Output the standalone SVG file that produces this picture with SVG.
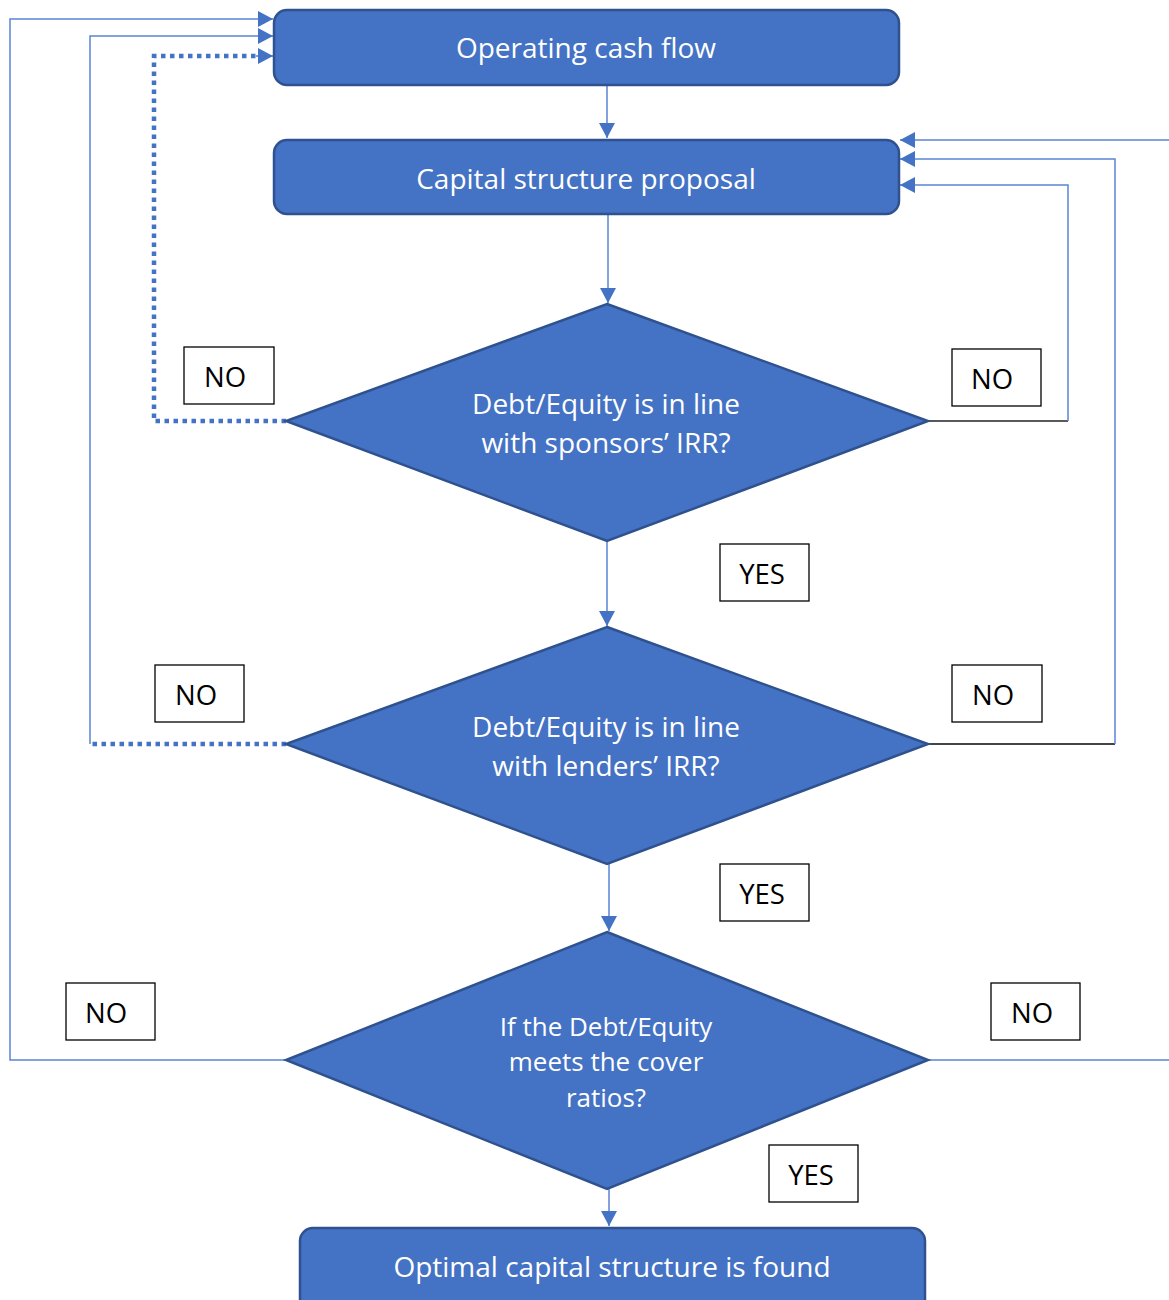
<svg xmlns="http://www.w3.org/2000/svg" width="1169" height="1300" viewBox="0 0 1169 1300">
<style>
.node{fill:#4472C4;stroke:#2F528F;stroke-width:2.5}
.t{fill:#fff;font-family:"Open Sans","Liberation Sans",sans-serif;font-size:28px;text-anchor:middle;dominant-baseline:central}
.t2{fill:#fff;font-family:"Open Sans","Liberation Sans",sans-serif;font-size:26px;text-anchor:middle;dominant-baseline:central}
.lb{fill:#fff;stroke:#000;stroke-width:1.3}
.lt{fill:#000;font-family:"Open Sans","Liberation Sans",sans-serif;font-size:27.5px;text-anchor:middle;dominant-baseline:central}
.c{fill:none;stroke:#5B85D3;stroke-width:1.5}
.d{fill:none;stroke:#4472C4;stroke-width:4.5;stroke-dasharray:4.5 4.5}
.k{fill:none;stroke:#222;stroke-width:1.5}
.kg{fill:none;stroke:#444;stroke-width:2}
</style>
<defs>
<marker id="ah" markerUnits="userSpaceOnUse" markerWidth="16" markerHeight="16" refX="15" refY="8" orient="auto">
<path d="M0,0 L15,8 L0,16 Z" fill="#4472C4"/>
</marker>
</defs>
<rect width="1169" height="1300" fill="#fff"/>
<g id="connectors">
<path class="c" d="M607,85 V138" marker-end="url(#ah)"/>
<path class="c" d="M608,214 V303" marker-end="url(#ah)"/>
<path class="c" d="M607,541 V626" marker-end="url(#ah)"/>
<path class="c" d="M609,864 V931" marker-end="url(#ah)"/>
<path class="c" d="M609,1189 V1226" marker-end="url(#ah)"/>
<path class="d" d="M286,421 H154 V56 H258"/>
<path class="c" d="M256,56 H273" marker-end="url(#ah)"/>
<path class="d" d="M286,744 H90"/>
<path class="c" d="M90,744 V36 H273" marker-end="url(#ah)"/>
<path class="c" d="M286,1060 H10 V19 H273" marker-end="url(#ah)"/>
<path class="k" d="M928,421 H1068"/>
<path class="c" d="M1068,421 V185 H900" marker-end="url(#ah)"/>
<path class="kg" d="M928,744 H1115"/>
<path class="c" d="M1115,744 V159 H900" marker-end="url(#ah)"/>
<path class="c" d="M928,1060 H1180 V140 H900" marker-end="url(#ah)"/>
</g>
<g id="n1"><rect class="node" x="274" y="10" width="625" height="75" rx="13"/><text class="t" x="586" y="47">Operating cash flow</text></g>
<g id="n2"><rect class="node" x="274" y="140" width="625" height="74" rx="13"/><text class="t" x="586" y="178">Capital structure proposal</text></g>
<g id="d1"><polygon class="node" points="607,304 928,421 607,541 286,421"/><text class="t" x="606" y="403">Debt/Equity is in line</text><text class="t" x="606" y="442">with sponsors’ IRR?</text></g>
<g id="d2"><polygon class="node" points="607,627 928,744 607,864 286,744"/><text class="t" x="606" y="726">Debt/Equity is in line</text><text class="t" x="606" y="765">with lenders’ IRR?</text></g>
<g id="d3"><polygon class="node" points="607,932 928,1060 607,1189 286,1060"/><text class="t2" x="606" y="1026">If the Debt/Equity</text><text class="t2" x="606" y="1061">meets the cover</text><text class="t2" x="606" y="1097">ratios?</text></g>
<g id="n4"><rect class="node" x="300" y="1228" width="625" height="90" rx="13"/><text class="t" x="612" y="1266">Optimal capital structure is found</text></g>
<g id="l1"><rect class="lb" x="184" y="347" width="90" height="57"/><text class="lt" x="225" y="376">NO</text></g>
<g id="l2"><rect class="lb" x="952" y="349" width="89" height="57"/><text class="lt" x="992" y="378">NO</text></g>
<g id="l3"><rect class="lb" x="720" y="544" width="89" height="57"/><text class="lt" x="762" y="573">YES</text></g>
<g id="l4"><rect class="lb" x="155" y="665" width="89" height="57"/><text class="lt" x="196" y="694">NO</text></g>
<g id="l5"><rect class="lb" x="952" y="665" width="90" height="57"/><text class="lt" x="993" y="694">NO</text></g>
<g id="l6"><rect class="lb" x="720" y="864" width="89" height="57"/><text class="lt" x="762" y="893">YES</text></g>
<g id="l7"><rect class="lb" x="66" y="983" width="89" height="57"/><text class="lt" x="106" y="1012">NO</text></g>
<g id="l8"><rect class="lb" x="991" y="983" width="89" height="57"/><text class="lt" x="1032" y="1012">NO</text></g>
<g id="l9"><rect class="lb" x="769" y="1145" width="89" height="57"/><text class="lt" x="811" y="1174">YES</text></g>
</svg>
